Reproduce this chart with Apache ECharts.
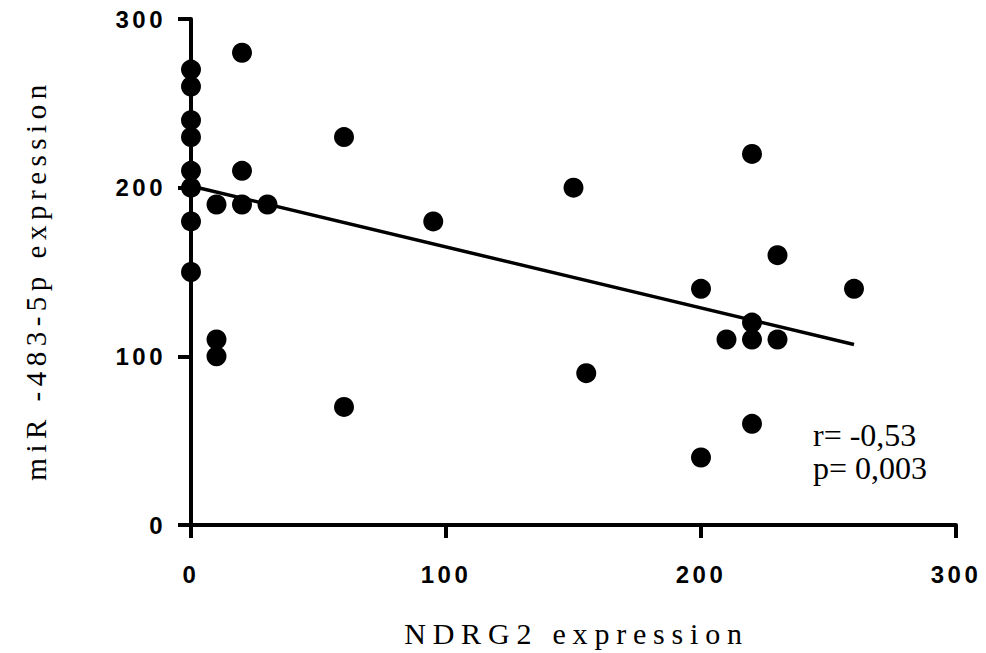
<!DOCTYPE html>
<html>
<head>
<meta charset="utf-8">
<script src="https://cdn.jsdelivr.net/npm/echarts@6/dist/echarts.min.js"></script>
<style>
html,body{margin:0;padding:0;background:#fff;}
#c{width:986px;height:653px;}
#c text[style*="bold"]{letter-spacing:3.5px;}
#c text[style*="30px"]{letter-spacing:6.8px;}
#c text[style*="29px"]{letter-spacing:5.5px;}
</style>
</head>
<body>
<div id="c"></div>
<script>
// NDRG2 expression (x) vs miR-483-5p expression (y)
var ndrg2 = [0,0,0,0,0,0,0,0, 20,20, 10,20,30, 10,10, 60,60, 95, 150, 155, 200,200, 210, 220,220,220,220, 230,230, 260];
var mir483 = [270,260,240,230,210,200,180,150, 280,210, 190,190,190, 110,100, 230,70, 180, 200, 90, 140,40, 110, 220,120,110,60, 160,110, 140];
var fitX = [0, 260];
var fitY = [201, 107];
var xTicks = [0, 100, 200, 300];
var yTicks = [0, 100, 200, 300];
var xName = 'NDRG2 expression';
var yName = 'miR -483-5p expression';
var statLines = ['r= -0,53', 'p= 0,003'];

var pts = ndrg2.map(function(x, i){ return [x, mir483[i]]; });
var fit = fitX.map(function(x, i){ return [x, fitY[i]]; });

var chart = echarts.init(document.getElementById('c'), null, {renderer:'svg'});
var axisCommon = {
  min: 0, max: 300, interval: 100,
  axisLine: {show:true, onZero:false, lineStyle:{color:'#000', width:4}},
  axisTick: {show:true, length:13, inside:false, lineStyle:{color:'#000', width:4}},
  splitLine: {show:false},
  axisLabel: {color:'#000', fontFamily:'Liberation Sans', fontWeight:'bold', fontSize:24}
};
chart.setOption({
  animation: false,
  backgroundColor: '#fff',
  grid: {left:191, right:30, top:19, bottom:126},
  xAxis: Object.assign({}, axisCommon, {
    type:'value',
    name:xName, nameLocation:'middle', nameGap:93,
    nameTextStyle:{fontFamily:'Liberation Serif', fontSize:30, color:'#000', padding:[0,0,0,6]},
    axisLabel: Object.assign({}, axisCommon.axisLabel, {margin:37, formatter:function(v){return xTicks.indexOf(v)>=0?String(v):'';}})
  }),
  yAxis: Object.assign({}, axisCommon, {
    type:'value',
    name:yName, nameLocation:'middle', nameGap:141,
    nameTextStyle:{fontFamily:'Liberation Serif', fontSize:29, color:'#000', padding:[0,16,0,0]},
    axisLabel: Object.assign({}, axisCommon.axisLabel, {margin:25, formatter:function(v){return yTicks.indexOf(v)>=0?String(v):'';}})
  }),
  series: [
    {type:'line', data:fit, symbol:'none', lineStyle:{color:'#000', width:3.5}, z:2},
    {type:'scatter', data:pts, symbol:'circle', symbolSize:20, itemStyle:{color:'#000', opacity:1}, z:3}
  ],
  graphic: [
    {type:'text', left:813, top:419, style:{text:statLines[0], font:'32px "Liberation Serif"', fill:'#000'}},
    {type:'text', left:813, top:452, style:{text:statLines[1], font:'32px "Liberation Serif"', fill:'#000'}}
  ]
});
</script>
</body>
</html>
